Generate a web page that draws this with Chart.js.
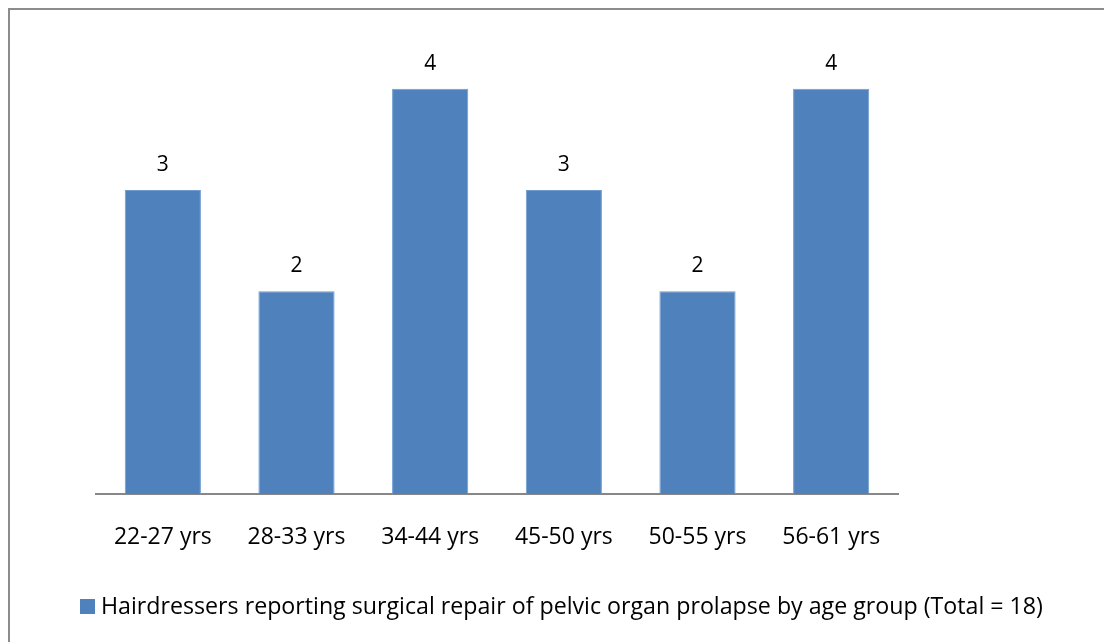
<!DOCTYPE html>
<html>
<head>
<meta charset="utf-8">
<script src="https://cdn.jsdelivr.net/npm/chart.js@4"></script>
<style>
  html, body { margin: 0; padding: 0; background: #fff; overflow: hidden; }
  #frame {
    position: absolute; left: 8px; top: 8px;
    width: 1200px; height: 700px;
    border: 2px solid #8c8c8c;
  }
  #wrap { position: absolute; left: 0; top: 0; width: 1104px; height: 642px; }
</style>
</head>
<body>
<div id="frame"></div>
<div id="wrap"><canvas id="chart" width="1104" height="642"></canvas></div>
<script>
const categories = ['22-27 yrs', '28-33 yrs', '34-44 yrs', '45-50 yrs', '50-55 yrs', '56-61 yrs'];
const counts = [3, 2, 4, 3, 2, 4];
const seriesLabel = 'Hairdressers reporting surgical repair of pelvic organ prolapse by age group (Total = 18)';
const barColor = '#4f81bd';
const fontFamily = '"Open Sans", "Noto Sans", sans-serif';

// value labels above each bar
const valueLabels = {
    id: 'valueLabels',
    afterDatasetsDraw(chart) {
        const ctx = chart.ctx;
        const meta = chart.getDatasetMeta(0);
        ctx.save();
        ctx.font = '21px ' + fontFamily;
        ctx.fillStyle = '#000';
        ctx.textAlign = 'center';
        ctx.textBaseline = 'middle';
        meta.data.forEach((bar, i) => {
            ctx.fillText(String(counts[i]), bar.x, bar.y - 25);
        });
        ctx.restore();
    }
};

// legend drawn by hand so it can be wider than the plot area
const bottomLegend = {
    id: 'bottomLegend',
    afterDraw(chart) {
        const ctx = chart.ctx;
        ctx.save();
        ctx.fillStyle = barColor;
        ctx.fillRect(80, 599, 15, 15);
        ctx.font = '23.2px ' + fontFamily;
        ctx.fillStyle = '#000';
        ctx.textAlign = 'left';
        ctx.textBaseline = 'middle';
        ctx.fillText(seriesLabel, 101, 607);
        ctx.restore();
    }
};

new Chart(document.getElementById('chart'), {
    type: 'bar',
    data: {
        labels: categories,
        datasets: [{
            label: seriesLabel,
            data: counts,
            backgroundColor: barColor,
            borderColor: '#6f9bd1',
            borderWidth: 1,
            barPercentage: 0.57,
            categoryPercentage: 1
        }]
    },
    options: {
        responsive: false,
        animation: false,
        layout: { padding: { left: 96, right: 206, top: 38, bottom: 0 } },
        plugins: {
            legend: { display: false },
            tooltip: { enabled: false }
        },
        scales: {
            x: {
                grid: { display: false, drawTicks: false },
                border: { display: true, color: '#878787', width: 2 },
                ticks: {
                    color: '#000',
                    padding: 30,
                    font: { family: fontFamily, size: 23 }
                },
                afterFit(scale) { scale.height = 148; }
            },
            y: {
                display: false,
                min: 0,
                max: 4.5
            }
        }
    },
    plugins: [valueLabels, bottomLegend]
});
</script>
</body>
</html>
